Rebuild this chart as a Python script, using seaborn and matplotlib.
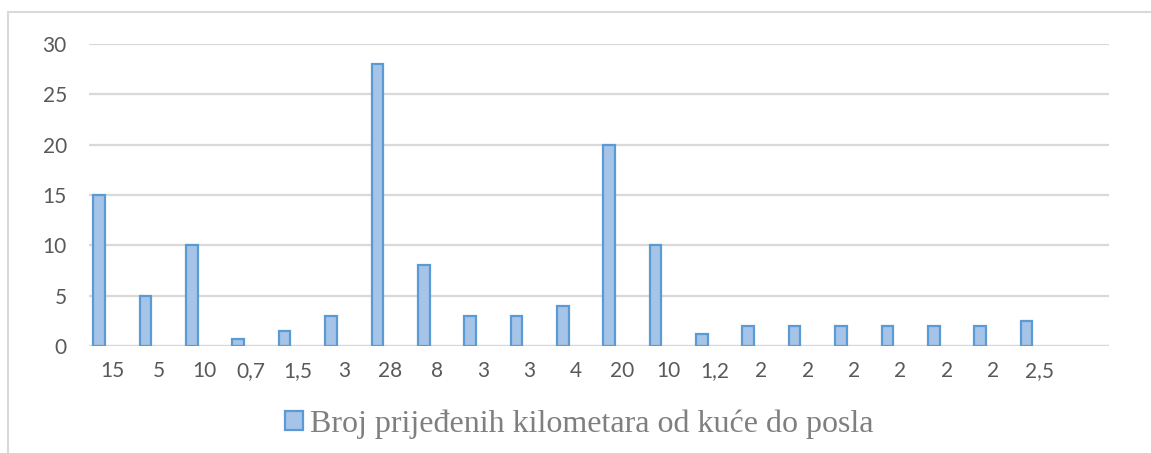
import matplotlib
matplotlib.use("Agg")
import matplotlib.pyplot as plt
from matplotlib.patches import Patch
from matplotlib.lines import Line2D
import seaborn as sns
import pandas as pd

# data
km_labels = ["15", "5", "10", "0,7", "1,5", "3", "28", "8", "3", "3", "4",
             "20", "10", "1,2", "2", "2", "2", "2", "2", "2", "2,5"]
km_values = [15, 5, 10, 0.7, 1.5, 3, 28, 8, 3, 3, 4,
             20, 10, 1.2, 2, 2, 2, 2, 2, 2, 2.5]
series_name = "Broj prijeđenih kilometara od kuće do posla"

df = pd.DataFrame({"pos": range(len(km_values)), "km": km_values})

sns.set_theme(style="white")
plt.rcParams["font.family"] = ["Lato", "DejaVu Sans"]

fill = "#a6c3e8"
edge = "#5b9bd5"
grid_c = "#d9d9d9"
text_c = "#595959"

fig = plt.figure(figsize=(11.51, 4.53), dpi=100)
ax = fig.add_axes([0.0773, 0.2362, 0.8862, 0.6667])

sns.barplot(data=df, x="pos", y="km", color=fill, width=0.25,
            edgecolor=edge, linewidth=1.6, saturation=1, ax=ax)

# Excel-style clustered offset: bar sits left of the category centre
for p in ax.patches:
    p.set_x(p.get_x() - 0.28)

ax.set_xlim(-0.5, len(km_values) + 0.5)
ax.set_ylim(0, 30)
ax.set_yticks(range(0, 31, 5))
ax.set_xticks(range(len(km_labels)))
ax.set_xticklabels(km_labels)
ax.yaxis.grid(True, color=grid_c, linewidth=1.6)
ax.set_axisbelow(True)
for s in ax.spines.values():
    s.set_visible(False)
ax.axhline(0, color=grid_c, linewidth=1.6, zorder=0)
ax.tick_params(axis="both", length=0, labelsize=15, labelcolor=text_c)
ax.tick_params(axis="x", pad=11)
ax.tick_params(axis="y", pad=16)
ax.set_xlabel("")
ax.set_ylabel("")

# legend at the bottom
handle = Patch(facecolor=fill, edgecolor=edge, linewidth=1.6)
fig.legend([handle], [series_name], loc="center",
           bbox_to_anchor=(579 / 1151, 1 - 424 / 453), frameon=False,
           prop={"family": "Liberation Serif", "size": 23},
           labelcolor="#7f7f7f", handlelength=0.58, handleheight=0.58,
           handletextpad=0.2)

# chart border (top and left visible)
fig.add_artist(Line2D([8 / 1151, 8 / 1151], [0, 1 - 12 / 453],
                      transform=fig.transFigure, color=grid_c, linewidth=1.5))
fig.add_artist(Line2D([8 / 1151, 1], [1 - 12 / 453, 1 - 12 / 453],
                      transform=fig.transFigure, color=grid_c, linewidth=1.5))

fig.savefig("out.png", dpi=100, facecolor="white")
